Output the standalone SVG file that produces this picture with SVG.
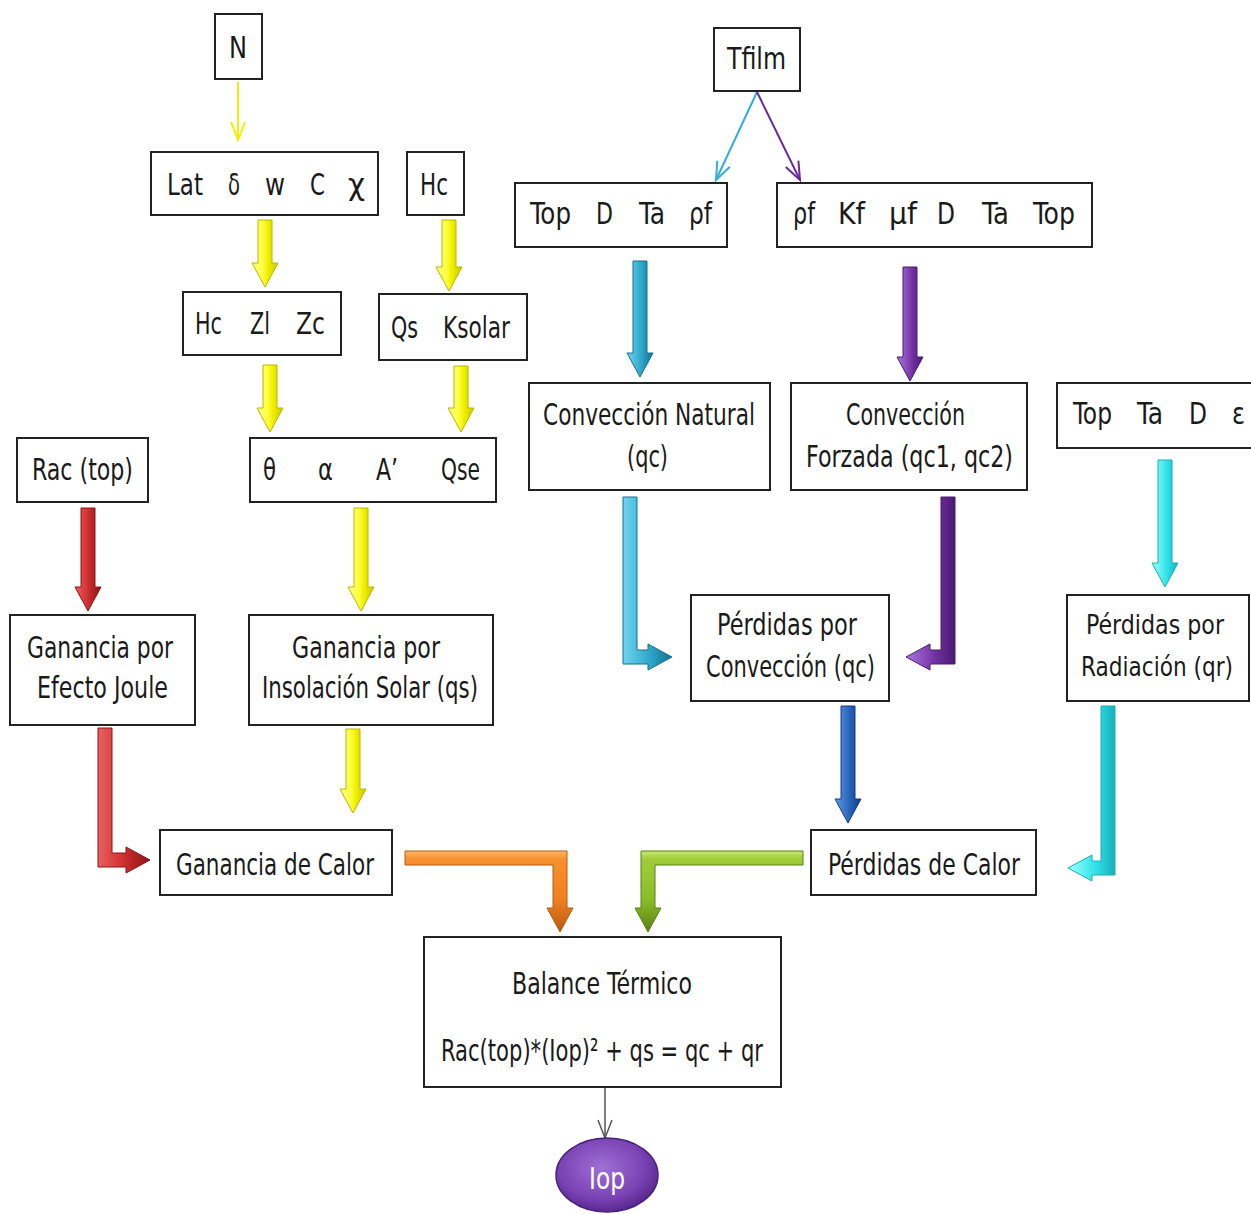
<svg xmlns="http://www.w3.org/2000/svg" width="1251" height="1214" viewBox="0 0 1251 1214">
<style>
.box{fill:#fff;stroke:#222;stroke-width:2}
.t{font-family:"Liberation Sans Narrow","DejaVu Sans Condensed","Liberation Sans",sans-serif;font-size:31px;fill:#1a1a1a}
.s{font-size:26px}
.thin{fill:none;stroke-width:2}
.blk{stroke-width:1}
</style>
<defs>
<linearGradient id="gY" x1="0" y1="0" x2="1" y2="0"><stop offset="0" stop-color="#ffff90"/><stop offset="0.4" stop-color="#ffff40"/><stop offset="0.6" stop-color="#f0f000"/><stop offset="1" stop-color="#c8c800"/></linearGradient>
<linearGradient id="gR" x1="0" y1="0" x2="1" y2="0"><stop offset="0" stop-color="#e86060"/><stop offset="0.4" stop-color="#d83838"/><stop offset="0.6" stop-color="#c0282a"/><stop offset="1" stop-color="#8a1416"/></linearGradient>
<linearGradient id="gT" x1="0" y1="0" x2="1" y2="0"><stop offset="0" stop-color="#70d4ee"/><stop offset="0.4" stop-color="#40b4d6"/><stop offset="0.6" stop-color="#2aa0c4"/><stop offset="1" stop-color="#17708c"/></linearGradient>
<linearGradient id="gP" x1="0" y1="0" x2="1" y2="0"><stop offset="0" stop-color="#a878d8"/><stop offset="0.4" stop-color="#8648b8"/><stop offset="0.6" stop-color="#7030a0"/><stop offset="1" stop-color="#4a1a70"/></linearGradient>
<linearGradient id="gC" x1="0" y1="0" x2="1" y2="0"><stop offset="0" stop-color="#a0ffff"/><stop offset="0.4" stop-color="#50ecf0"/><stop offset="0.6" stop-color="#30e0e8"/><stop offset="1" stop-color="#18b0b8"/></linearGradient>
<linearGradient id="gB" x1="0" y1="0" x2="1" y2="0"><stop offset="0" stop-color="#6098e4"/><stop offset="0.4" stop-color="#3a74c8"/><stop offset="0.6" stop-color="#2560b8"/><stop offset="1" stop-color="#143c80"/></linearGradient>
<linearGradient id="gO" x1="0" y1="0" x2="0" y2="1"><stop offset="0" stop-color="#ffb868"/><stop offset="0.1" stop-color="#f79030"/><stop offset="0.6" stop-color="#f08020"/><stop offset="1" stop-color="#b85a10"/></linearGradient>
<linearGradient id="gG" x1="0" y1="0" x2="0" y2="1"><stop offset="0" stop-color="#c8e870"/><stop offset="0.1" stop-color="#a0cc3c"/><stop offset="0.6" stop-color="#8cbc28"/><stop offset="1" stop-color="#5a8014"/></linearGradient>
<radialGradient id="gI" cx="0.45" cy="0.4" r="0.6"><stop offset="0" stop-color="#a070d4"/><stop offset="0.7" stop-color="#7a42b4"/><stop offset="1" stop-color="#5a2890"/></radialGradient>
</defs>

<g id="connectors">
<g stroke="#f0f000" class="thin"><line x1="238" y1="82" x2="238" y2="140"/><polyline points="231,122 238,140 245,122"/></g>
<g stroke="#30b0d4" class="thin"><line x1="757" y1="92" x2="716" y2="180"/><polyline points="717.3,160.7 716,180 729.9,166.7"/></g>
<g stroke="#6a2a9a" class="thin"><line x1="757" y1="92" x2="800" y2="180"/><polyline points="798.4,160.7 800,180 785.8,166.9"/></g>
<g stroke="#555" class="thin" style="stroke-width:1.5"><line x1="605" y1="1087" x2="605" y2="1138"/><polyline points="598,1120 605,1138 612,1120"/></g>
<path class="blk" fill="url(#gY)" stroke="#b8b800" d="M258 220 H272 V263 H278 L265 287 L252 263 H258 Z"/>
<path class="blk" fill="url(#gY)" stroke="#b8b800" d="M442 220 H456 V267 H462 L449 291 L436 267 H442 Z"/>
<path class="blk" fill="url(#gY)" stroke="#b8b800" d="M263 365 H277 V408 H283 L270 432 L257 408 H263 Z"/>
<path class="blk" fill="url(#gY)" stroke="#b8b800" d="M454 366 H468 V408 H474 L461 432 L448 408 H454 Z"/>
<path class="blk" fill="url(#gR)" stroke="#8a1416" d="M81 508 H95 V587 H101 L88 611 L75 587 H81 Z"/>
<path class="blk" fill="url(#gY)" stroke="#b8b800" d="M354 508 H368 V587 H374 L361 611 L348 587 H354 Z"/>
<path class="blk" fill="url(#gY)" stroke="#b8b800" d="M346 729 H360 V789 H366 L353 813 L340 789 H346 Z"/>
<path class="blk" fill="url(#gT)" stroke="#17708c" d="M633 261 H647 V353 H653 L640 377 L627 353 H633 Z"/>
<path class="blk" fill="url(#gP)" stroke="#4a1a70" d="M903 267 H917 V357 H923 L910 381 L897 357 H903 Z"/>
<path class="blk" fill="url(#gC)" stroke="#18b0b8" d="M1158 460 H1172 V563 H1178 L1165 587 L1152 563 H1158 Z"/>
<path class="blk" fill="url(#gB)" stroke="#143c80" d="M841 706 H855 V799 H861 L848 823 L835 799 H841 Z"/>
<path class="blk" fill="url(#gR)" stroke="#8a1416" d="M98 728 H112 V853 H126 V847 L150 860 L126 873 V867 H98 Z"/>
<path class="blk" fill="url(#gT)" stroke="#17708c" d="M623 497 H637 V650 H648 V644 L672 657 L648 670 V664 H623 Z"/>
<path class="blk" fill="url(#gP)" stroke="#4a1a70" d="M941 497 H955 V664 H930 V670 L906 657 L930 644 V650 H941 Z"/>
<path class="blk" fill="url(#gC)" stroke="#18b0b8" d="M1101 706 H1115 V875 H1092 V881 L1068 868 L1092 855 V861 H1101 Z"/>
<path class="blk" fill="url(#gO)" stroke="#b85a10" d="M405 851 H567 V908 H573 L560 932 L547 908 H553 V865 H405 Z"/>
<path class="blk" fill="url(#gG)" stroke="#5a8014" d="M803 851 V865 H655 V908 H661 L648 932 L635 908 H641 V851 Z"/>
</g>

<g id="n-N"><rect class="box" x="215" y="14" width="47" height="65"/><text class="t" x="229" y="58" textLength="18" lengthAdjust="spacingAndGlyphs">N</text></g>
<g id="n-lat"><rect class="box" x="151" y="152" width="227" height="63"/>
<text class="t" x="167" y="195" textLength="36" lengthAdjust="spacingAndGlyphs">Lat</text>
<text class="t" x="228" y="195" textLength="12" lengthAdjust="spacingAndGlyphs">δ</text>
<text class="t" x="265" y="195" textLength="20" lengthAdjust="spacingAndGlyphs">w</text>
<text class="t" x="310" y="195" textLength="15" lengthAdjust="spacingAndGlyphs">C</text>
<text class="t" x="348" y="195" textLength="17" lengthAdjust="spacingAndGlyphs">χ</text></g>
<g id="n-hc"><rect class="box" x="407" y="152" width="57" height="63"/><text class="t" x="420" y="195" textLength="28" lengthAdjust="spacingAndGlyphs">Hc</text></g>
<g id="n-hczl"><rect class="box" x="183" y="292" width="158" height="63"/>
<text class="t" x="195" y="334" textLength="27" lengthAdjust="spacingAndGlyphs">Hc</text>
<text class="t" x="250" y="334" textLength="20" lengthAdjust="spacingAndGlyphs">Zl</text>
<text class="t" x="296" y="334" textLength="29" lengthAdjust="spacingAndGlyphs">Zc</text></g>
<g id="n-qs"><rect class="box" x="379" y="294" width="148" height="66"/>
<text class="t" x="391" y="338" textLength="27" lengthAdjust="spacingAndGlyphs">Qs</text>
<text class="t" x="443" y="338" textLength="67" lengthAdjust="spacingAndGlyphs">Ksolar</text></g>
<g id="n-theta"><rect class="box" x="250" y="438" width="246" height="64"/>
<text class="t" x="263" y="480" textLength="13" lengthAdjust="spacingAndGlyphs">θ</text>
<text class="t" x="318" y="480" textLength="15" lengthAdjust="spacingAndGlyphs">α</text>
<text class="t" x="376" y="480" textLength="22" lengthAdjust="spacingAndGlyphs">A’</text>
<text class="t" x="441" y="480" textLength="39" lengthAdjust="spacingAndGlyphs">Qse</text></g>
<g id="n-rac"><rect class="box" x="17" y="438" width="131" height="64"/><text class="t" x="32" y="480" textLength="101" lengthAdjust="spacingAndGlyphs">Rac (top)</text></g>
<g id="n-joule"><rect class="box" x="10" y="615" width="185" height="110"/>
<text class="t" x="27" y="658" textLength="146" lengthAdjust="spacingAndGlyphs">Ganancia por</text>
<text class="t" x="37" y="698" textLength="131" lengthAdjust="spacingAndGlyphs">Efecto Joule</text></g>
<g id="n-insol"><rect class="box" x="249" y="615" width="244" height="110"/>
<text class="t" x="292" y="658" textLength="148" lengthAdjust="spacingAndGlyphs">Ganancia por</text>
<text class="t" x="262" y="698" textLength="216" lengthAdjust="spacingAndGlyphs">Insolación Solar (qs)</text></g>
<g id="n-gcalor"><rect class="box" x="160" y="830" width="232" height="65"/><text class="t" x="176" y="875" textLength="198" lengthAdjust="spacingAndGlyphs">Ganancia de Calor</text></g>
<g id="n-tfilm"><rect class="box" x="714" y="28" width="86" height="63"/><text class="t" x="727" y="69" textLength="59" lengthAdjust="spacingAndGlyphs">Tfilm</text></g>
<g id="n-topd"><rect class="box" x="515" y="183" width="212" height="64"/>
<text class="t" x="530" y="224" textLength="41" lengthAdjust="spacingAndGlyphs">Top</text>
<text class="t" x="596" y="224" textLength="17" lengthAdjust="spacingAndGlyphs">D</text>
<text class="t" x="639" y="224" textLength="26" lengthAdjust="spacingAndGlyphs">Ta</text>
<text class="t" x="689" y="224" textLength="23" lengthAdjust="spacingAndGlyphs">ρf</text></g>
<g id="n-rhof"><rect class="box" x="777" y="183" width="315" height="64"/>
<text class="t" x="793" y="224" textLength="22" lengthAdjust="spacingAndGlyphs">ρf</text>
<text class="t" x="838" y="224" textLength="27" lengthAdjust="spacingAndGlyphs">Kf</text>
<text class="t" x="889" y="224" textLength="28" lengthAdjust="spacingAndGlyphs">μf</text>
<text class="t" x="937" y="224" textLength="18" lengthAdjust="spacingAndGlyphs">D</text>
<text class="t" x="982" y="224" textLength="27" lengthAdjust="spacingAndGlyphs">Ta</text>
<text class="t" x="1033" y="224" textLength="42" lengthAdjust="spacingAndGlyphs">Top</text></g>
<g id="n-convnat"><rect class="box" x="529" y="383" width="241" height="107"/>
<text class="t" x="543" y="425" textLength="212" lengthAdjust="spacingAndGlyphs">Convección Natural</text>
<text class="t" x="627" y="467" textLength="41" lengthAdjust="spacingAndGlyphs">(qc)</text></g>
<g id="n-convforz"><rect class="box" x="791" y="383" width="236" height="107"/>
<text class="t" x="846" y="425" textLength="119" lengthAdjust="spacingAndGlyphs">Convección</text>
<text class="t" x="806" y="467" textLength="207" lengthAdjust="spacingAndGlyphs">Forzada (qc1, qc2)</text></g>
<g id="n-topta"><rect class="box" x="1057" y="383" width="200" height="65"/>
<text class="t" x="1073" y="424" textLength="39" lengthAdjust="spacingAndGlyphs">Top</text>
<text class="t" x="1137" y="424" textLength="26" lengthAdjust="spacingAndGlyphs">Ta</text>
<text class="t" x="1189" y="424" textLength="18" lengthAdjust="spacingAndGlyphs">D</text>
<text class="t" x="1232" y="424" textLength="13" lengthAdjust="spacingAndGlyphs">ε</text></g>
<g id="n-perdconv"><rect class="box" x="691" y="595" width="198" height="106"/>
<text class="t" x="717" y="635" textLength="140" lengthAdjust="spacingAndGlyphs">Pérdidas por</text>
<text class="t" x="706" y="677" textLength="169" lengthAdjust="spacingAndGlyphs">Convección (qc)</text></g>
<g id="n-perdrad"><rect class="box" x="1067" y="595" width="182" height="106"/>
<text class="t s" x="1086" y="634" textLength="138" lengthAdjust="spacingAndGlyphs">Pérdidas por</text>
<text class="t s" x="1081" y="676" textLength="152" lengthAdjust="spacingAndGlyphs">Radiación (qr)</text></g>
<g id="n-pcalor"><rect class="box" x="811" y="830" width="225" height="65"/><text class="t" x="828" y="875" textLength="192" lengthAdjust="spacingAndGlyphs">Pérdidas de Calor</text></g>
<g id="n-balance"><rect class="box" x="424" y="937" width="357" height="150"/>
<text class="t" x="512" y="994" textLength="180" lengthAdjust="spacingAndGlyphs">Balance Térmico</text>
<text class="t" x="441" y="1061" textLength="322" lengthAdjust="spacingAndGlyphs">Rac(top)*(Iop)² + qs = qc + qr</text></g>
<g id="n-iop"><ellipse cx="607" cy="1175" rx="51" ry="37" fill="url(#gI)" stroke="#4a2078" stroke-width="1.5"/>
<text class="t" x="589" y="1189" textLength="36" lengthAdjust="spacingAndGlyphs" style="fill:#fff">Iop</text></g>
</svg>
